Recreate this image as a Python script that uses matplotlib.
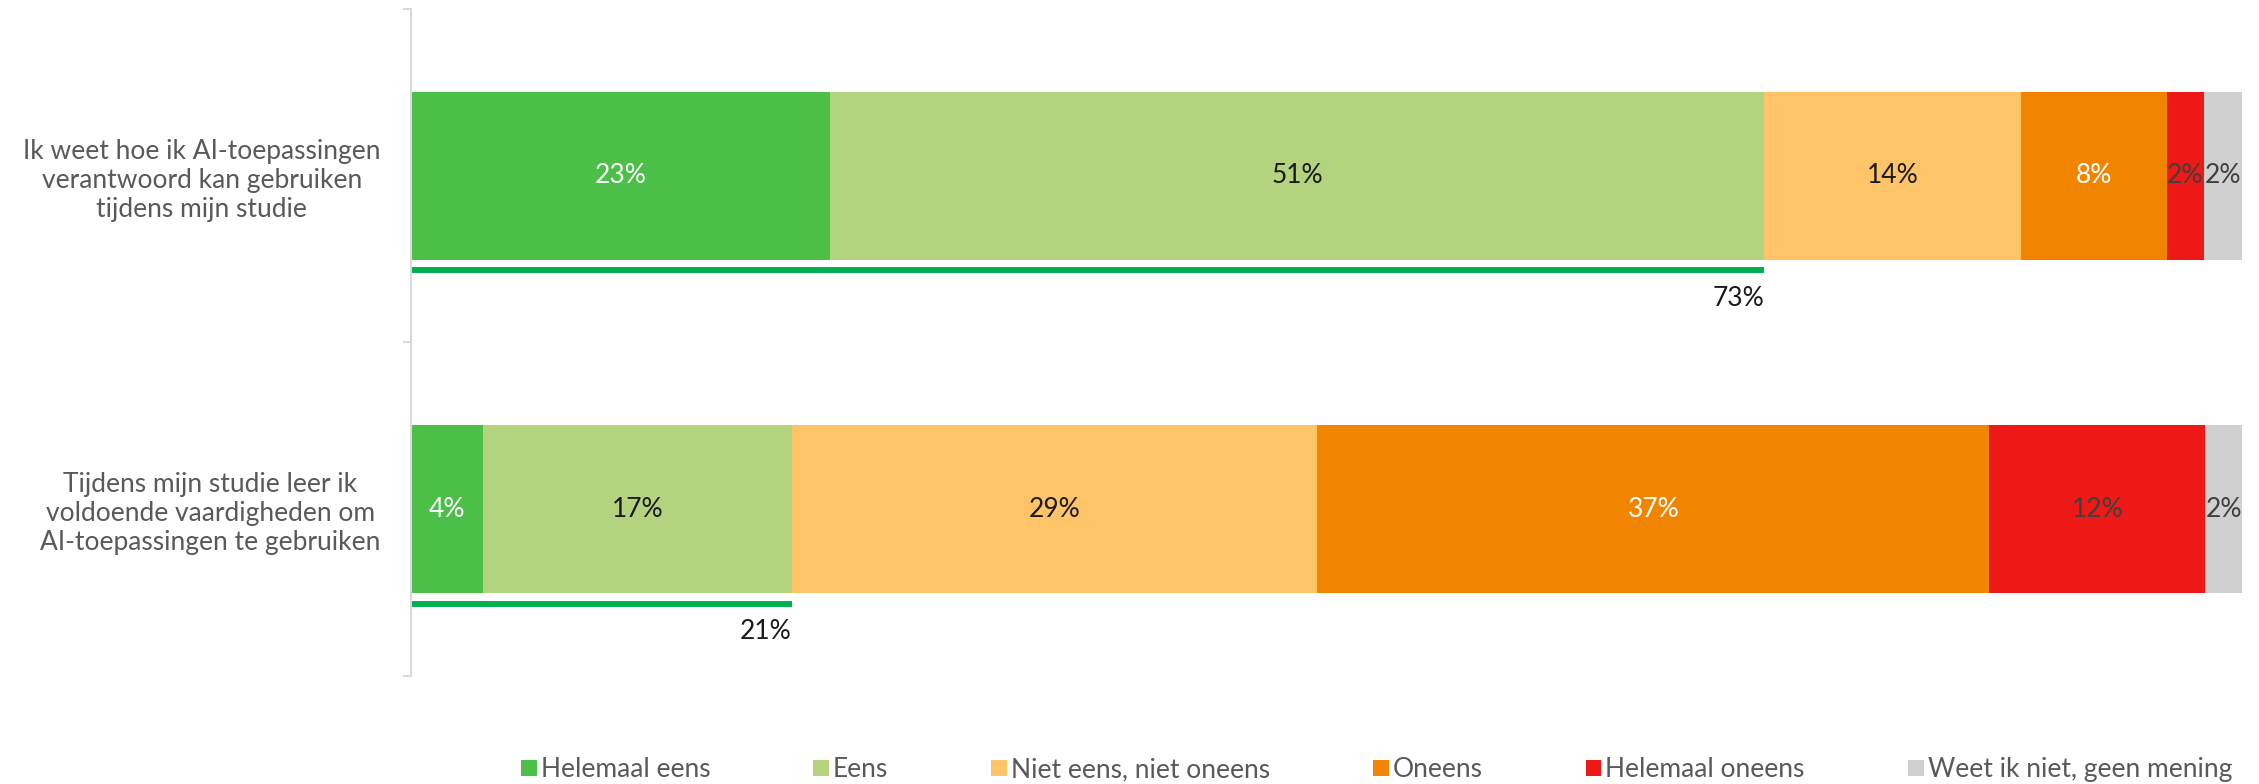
import matplotlib.pyplot as plt
import numpy as np

# data
statements = [
    "Ik weet hoe ik AI-toepassingen\nverantwoord kan gebruiken\ntijdens mijn studie",
    "Tijdens mijn studie leer ik\nvoldoende vaardigheden om\nAI-toepassingen te gebruiken",
]
answers = ["Helemaal eens", "Eens", "Niet eens, niet oneens",
           "Oneens", "Helemaal oneens", "Weet ik niet, geen mening"]
values = [
    [22.9, 51.0, 14.0, 8.0, 2.0, 2.1],
    [3.9, 16.9, 28.7, 36.7, 11.8, 2.0],
]
value_labels = [
    ["23%", "51%", "14%", "8%", "2%", "2%"],
    ["4%", "17%", "29%", "37%", "12%", "2%"],
]
agree_labels = ["73%", "21%"]

colors = ["#4BBF47", "#B3D37F", "#FFC468", "#F28500", "#EE1916", "#D0D0D0"]
text_colors = ["white", "#1a1a1a", "#1a1a1a", "white", "#404040", "#404040"]

plt.rcParams['font.family'] = ['Lato', 'DejaVu Sans']
FS = 19

fig = plt.figure(figsize=(22.59, 7.84), dpi=100)
ax = fig.add_axes([0.182, 0.1378, 0.8105, 0.8507])

vals = np.array(values)
y = np.arange(len(statements))
left = np.zeros(len(statements))
for j, name in enumerate(answers):
    ax.barh(y, vals[:, j], left=left, height=0.503, color=colors[j],
            linewidth=0, label=name)
    for i in range(len(statements)):
        ax.text(left[i] + vals[i, j] / 2, y[i], value_labels[i][j],
                ha="center", va="center", fontsize=FS, color=text_colors[j])
    left += vals[:, j]

# agree underline + total
for i in range(len(statements)):
    agree = vals[i, 0] + vals[i, 1]
    ax.plot([0, agree], [y[i] + 0.283, y[i] + 0.283], color="#00B050",
            lw=4.3, solid_capstyle="butt", clip_on=False)
    ax.text(agree, y[i] + 0.368, agree_labels[i], ha="right", va="center",
            fontsize=FS, color="#1a1a1a")

ax.set_xlim(0, 100)
ax.set_ylim(1.5, -0.5)
ax.set_yticks(y)
ax.set_yticklabels(statements, fontsize=FS, color="#595959",
                   multialignment="center", linespacing=1.2)
ax.tick_params(axis="y", which="major", length=0, pad=22)
ax.set_yticks([-0.5, 0.5, 1.5], minor=True)
ax.tick_params(axis="y", which="minor", length=6, color="#D9D9D9", width=1.5)
ax.set_xticks([])
for s in ["top", "right", "bottom"]:
    ax.spines[s].set_visible(False)
ax.spines["left"].set_color("#D9D9D9")
ax.spines["left"].set_linewidth(1.5)

leg = fig.legend(loc="center right", bbox_to_anchor=(0.988, 0.018), ncol=6,
                 frameon=False, fontsize=FS, handlelength=0.6,
                 handleheight=0.6, handletextpad=0.15, columnspacing=3.9,
                 borderaxespad=0, borderpad=0)
for t in leg.get_texts():
    t.set_color("#595959")

fig.savefig("out.png", dpi=100)
